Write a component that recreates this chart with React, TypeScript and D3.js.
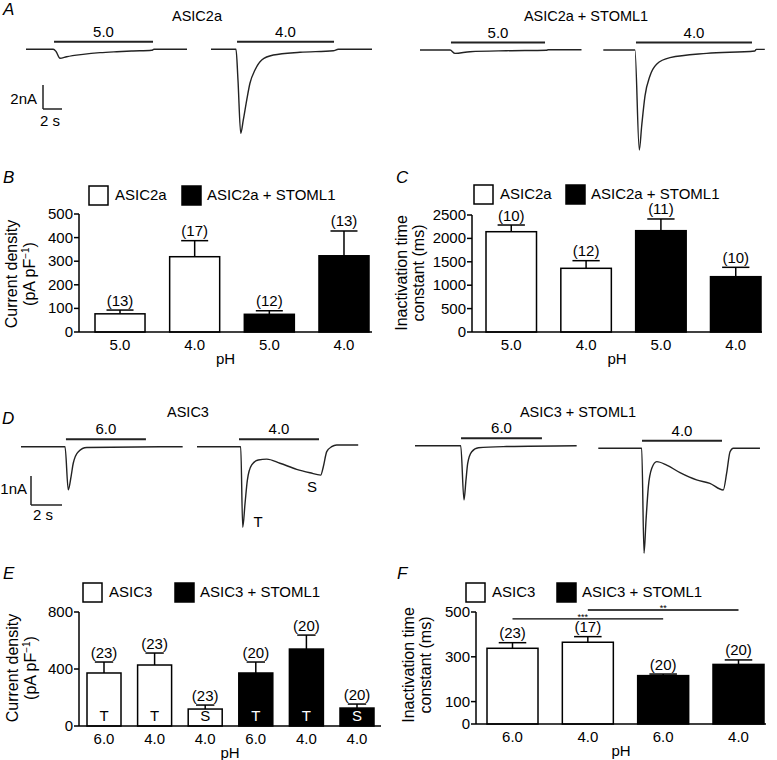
import React from 'react';
import * as d3 from 'd3';

const FONT = "'Liberation Sans', Arial, Helvetica, sans-serif";
const INK = '#222';

// ---------- Panel A traces (t in s, I in nA) ----------
const traceA1: [number, number][] = [[0,0],[2.87,0],[3.16,-0.18],[3.58,-0.75],[4.28,-0.62],[6.0,-0.42],[7.79,-0.28],[9.55,-0.2],[11.26,-0.14],[13.23,-0.08],[13.47,0],[16.95,0]];
const traceA2: [number, number][] = [[0,0],[2.63,0],[2.84,-2.56],[3.13,-7.0],[3.4,-5.89],[3.76,-4.23],[4.1,-2.83],[4.63,-1.73],[5.34,-0.89],[6.56,-0.48],[9.37,-0.25],[12.87,-0.12],[13.4,0],[16.95,0]];
const traceA3: [number, number][] = [[0,0],[3.16,0],[3.68,-0.28],[5.26,-0.14],[9.1,-0.06],[13.3,-0.02],[13.5,0.02],[17,0.02]];
const traceA4: [number, number][] = [[0,0],[3.33,0],[3.79,-8.33],[4.04,-6.33],[4.39,-3.83],[4.91,-2.17],[5.61,-1.19],[7.02,-0.64],[10.88,-0.28],[15.96,-0.08],[16.1,0.05],[17,0.05]];
const appA1: [number, number] = [2.95, 13.37];
const appA2: [number, number] = [2.74, 12.95];
const appA3: [number, number] = [3.26, 13.16];
const appA4: [number, number] = [3.44, 15.65];
const phA = ['5.0', '4.0', '5.0', '4.0'];

// ---------- Panel D traces ----------
const traceD1: [number, number][] = [[0,0],[2.84,0],[3.05,-1.49],[3.23,-1.03],[3.37,-0.57],[3.7,-0.17],[4.24,-0.03],[10.43,0]];
const traceD2: [number, number][] = [[0,0],[2.82,0],[2.95,-2.78],[3.1,-1.95],[3.25,-1.15],[3.53,-0.63],[3.95,-0.46],[4.5,-0.43],[5.35,-0.57],[6.43,-0.78],[7.29,-0.9],[7.98,-0.98],[8.15,-0.69],[8.37,-0.17],[8.69,0],[9.01,0.06],[10.4,0.06]];
const traceD3: [number, number][] = [[0,0],[2.95,0],[3.16,-1.87],[3.29,-1.18],[3.4,-0.61],[3.66,-0.21],[4.09,-0.07],[5.9,-0.03],[10.43,0]];
const traceD4: [number, number][] = [[0,0],[2.8,0],[2.95,-3.62],[3.08,-2.47],[3.23,-1.32],[3.45,-0.69],[3.77,-0.46],[4.41,-0.58],[5.27,-0.84],[6.34,-1.09],[7.2,-1.21],[8.06,-1.44],[8.28,-0.86],[8.5,-0.12],[8.71,0],[10.43,0]];
const appD1: [number, number] = [2.9, 8.06];
const appD2: [number, number] = [2.71, 7.87];
const appD3: [number, number] = [2.97, 8.19];
const appD4: [number, number] = [2.82, 7.98];
const phD = ['6.0', '4.0', '6.0', '4.0'];

// ---------- Panel B ----------
const catsB = ['5.0', '4.0', '5.0', '4.0'];
const fillB = ['#fff', '#fff', '#000', '#000'];
const meanB = [77, 319, 75, 323];
const semB = [16, 68, 15, 105];
const nB = ['(13)', '(17)', '(12)', '(13)'];
const ticksB = [0, 100, 200, 300, 400, 500];

// ---------- Panel C ----------
const catsC = ['5.0', '4.0', '5.0', '4.0'];
const fillC = ['#fff', '#fff', '#000', '#000'];
const meanC = [2143, 1361, 2165, 1182];
const semC = [143, 163, 250, 200];
const nC = ['(10)', '(12)', '(11)', '(10)'];
const ticksC = [0, 500, 1000, 1500, 2000, 2500];

// ---------- Panel E ----------
const catsE = ['6.0', '4.0', '4.0', '6.0', '4.0', '4.0'];
const fillE = ['#fff', '#fff', '#fff', '#000', '#000', '#000'];
const meanE = [372, 428, 119, 372, 540, 126];
const semE = [77, 84, 28, 77, 98, 28];
const nE = ['(23)', '(23)', '(23)', '(20)', '(20)', '(20)'];
const innerE = ['T', 'T', 'S', 'T', 'T', 'S'];
const ticksE = [0, 400, 800];

// ---------- Panel F ----------
const catsF = ['6.0', '4.0', '6.0', '4.0'];
const fillF = ['#fff', '#fff', '#000', '#000'];
const meanF = [338, 365, 216, 266];
const semF = [25, 25, 7, 20];
const nF = ['(23)', '(17)', '(20)', '(20)'];
const ticksF = [0, 100, 300, 500];
const sigF = [
  { from: 0, to: 2, level: 469, label: '***' },
  { from: 1, to: 3, level: 509, label: '**' },
];

type TraceProps = {
  data: [number, number][];
  app: [number, number];
  label: string;
  x0: number;
  y0: number;
  pxs: number;
  pxa: number;
  tmax: number;
};

function Trace({ data, app, label, x0, y0, pxs, pxa, tmax }: TraceProps) {
  const x = d3.scaleLinear().domain([0, tmax]).range([x0, x0 + tmax * pxs]);
  const y = d3.scaleLinear().domain([0, -1]).range([y0, y0 + pxa]);
  const line = d3.line<[number, number]>().x(d => x(d[0])).y(d => y(d[1])).curve(d3.curveMonotoneX);
  const by = y(0) - 7.5;
  return (
    <g>
      <path d={line(data) || ''} fill="none" stroke={INK} strokeWidth={1.4} strokeLinejoin="round" />
      <line x1={x(app[0])} x2={x(app[1])} y1={by} y2={by} stroke={INK} strokeWidth={2} />
      <text x={(x(app[0]) + x(app[1])) / 2} y={by - 5} textAnchor="middle" fontSize={15}>{label}</text>
    </g>
  );
}

type BarPanelProps = {
  axisX: number; axisEnd: number; y0: number; yTop: number; dmax: number; ticks: number[];
  bandL: number; bandR: number; pad: number;
  cats: string[]; fills: string[]; means: number[]; sems: number[]; ns: string[]; inner?: string[];
  sig?: { from: number; to: number; level: number; label: string }[];
};

function BarPanel(p: BarPanelProps) {
  const y = d3.scaleLinear().domain([0, p.dmax]).range([p.y0, p.yTop]);
  const idx = d3.range(p.cats.length);
  const x = d3.scaleBand<number>().domain(idx).range([p.bandL, p.bandR]).paddingInner(p.pad).paddingOuter(0);
  const bw = x.bandwidth();
  return (
    <g>
      {idx.map(i => {
        const cx = (x(i) as number) + bw / 2;
        const top = y(p.means[i] + p.sems[i]);
        return (
          <g key={i}>
            <line x1={cx} x2={cx} y1={y(p.means[i])} y2={top} stroke="#000" strokeWidth={1.5} />
            <line x1={cx - bw * 0.27} x2={cx + bw * 0.27} y1={top} y2={top} stroke="#000" strokeWidth={1.5} />
            <rect x={x(i)} y={y(p.means[i])} width={bw} height={y(0) - y(p.means[i])} fill={p.fills[i]} stroke="#000" strokeWidth={1.5} />
            <text x={cx} y={top - 4.5} textAnchor="middle" fontSize={15}>{p.ns[i]}</text>
            <text x={cx} y={y(0) + 18} textAnchor="middle" fontSize={15}>{p.cats[i]}</text>
            {p.inner && (
              <text x={cx} y={y(0) - 5} textAnchor="middle" fontSize={15} fill={p.fills[i] === '#000' ? '#fff' : '#000'}>{p.inner[i]}</text>
            )}
          </g>
        );
      })}
      <line x1={p.axisX} x2={p.axisX} y1={y(0)} y2={y(p.dmax)} stroke="#000" strokeWidth={1.5} />
      <line x1={p.axisX} x2={p.axisEnd} y1={y(0)} y2={y(0)} stroke="#000" strokeWidth={1.5} />
      {p.ticks.map(t => (
        <g key={t}>
          <line x1={p.axisX - 5} x2={p.axisX} y1={y(t)} y2={y(t)} stroke="#000" strokeWidth={1.5} />
          <text x={p.axisX - 6} y={y(t) + 5} textAnchor="end" fontSize={15}>{t}</text>
        </g>
      ))}
      <text x={(p.axisX + p.axisEnd) / 2} y={y(0) + 32} textAnchor="middle" fontSize={15}>pH</text>
      {p.sig && p.sig.map((s, k) => {
        const x1 = (x(s.from) as number) + bw / 2;
        const x2 = (x(s.to) as number) + bw / 2;
        return (
          <g key={k}>
            <line x1={x1} x2={x2} y1={y(s.level)} y2={y(s.level)} stroke="#000" strokeWidth={1.3} />
            <text x={(x1 + x2) / 2 - (k === 0 ? 5 : 0)} y={y(s.level) + 1} textAnchor="middle" fontSize={9}>{s.label}</text>
          </g>
        );
      })}
    </g>
  );
}

function Legend({ x1, x2, y, label1, label2 }: { x1: number; x2: number; y: number; label1: string; label2: string }) {
  return (
    <g>
      <rect x={x1} y={y} width={19} height={19} fill="#fff" stroke="#000" strokeWidth={1.5} />
      <text x={x1 + 26} y={y + 14} fontSize={15}>{label1}</text>
      <rect x={x2} y={y} width={19} height={19} fill="#000" stroke="#000" strokeWidth={1.5} />
      <text x={x2 + 25} y={y + 14} fontSize={15}>{label2}</text>
    </g>
  );
}

function YLabel({ x1, x2, cy, line1, line2 }: { x1: number; x2: number; cy: number; line1: string; line2: React.ReactNode }) {
  return (
    <g>
      <text transform={`translate(${x1},${cy}) rotate(-90)`} textAnchor="middle" fontSize={16}>{line1}</text>
      <text transform={`translate(${x2},${cy}) rotate(-90)`} textAnchor="middle" fontSize={16}>{line2}</text>
    </g>
  );
}

const pApF = (
  <>
    (pA pF<tspan fontSize={10} dy={-6}>−1</tspan><tspan dy={6}>)</tspan>
  </>
);

export default function App() {
  const pxsA = 9.5, pxaA = 12;
  const pxsD = 15.5, pxaD = 29;
  return (
    <svg width={777} height={760} style={{ position: 'absolute', left: 0, top: 0, background: '#fff' }} fontFamily={FONT}>
      <rect width={777} height={760} fill="#fff" />
      {/* Panel A */}
      <text x={3} y={15} fontSize={17} fontStyle="italic">A</text>
      <text x={197} y={21} textAnchor="middle" fontSize={14.5}>ASIC2a</text>
      <text x={586} y={21} textAnchor="middle" fontSize={14.5}>ASIC2a + STOML1</text>
      <Trace data={traceA1} app={appA1} label={phA[0]} x0={26} y0={49.3} pxs={pxsA} pxa={pxaA} tmax={17} />
      <Trace data={traceA2} app={appA2} label={phA[1]} x0={211} y0={49.3} pxs={pxsA} pxa={pxaA} tmax={17} />
      <Trace data={traceA3} app={appA3} label={phA[2]} x0={420} y0={50} pxs={pxsA} pxa={pxaA} tmax={17} />
      <Trace data={traceA4} app={appA4} label={phA[3]} x0={603.3} y0={50} pxs={pxsA} pxa={pxaA} tmax={17} />
      <line x1={43} x2={43} y1={109 - 2 * pxaA} y2={109} stroke={INK} strokeWidth={1.5} />
      <line x1={43} x2={43 + 2 * pxsA} y1={109} y2={109} stroke={INK} strokeWidth={1.5} />
      <text x={37} y={104} textAnchor="end" fontSize={15}>2nA</text>
      <text x={40} y={126} fontSize={15}>2 s</text>

      {/* Panel B */}
      <text x={3} y={183} fontSize={17} fontStyle="italic">B</text>
      <Legend x1={89} x2={182} y={186} label1="ASIC2a" label2="ASIC2a + STOML1" />
      <YLabel x1={17} x2={35} cy={274} line1="Current density" line2={pApF} />
      <BarPanel axisX={79} axisEnd={372} y0={332} yTop={214} dmax={500} ticks={ticksB}
        bandL={95} bandR={369} pad={0.33} cats={catsB} fills={fillB} means={meanB} sems={semB} ns={nB} />

      {/* Panel C */}
      <text x={396} y={183} fontSize={17} fontStyle="italic">C</text>
      <Legend x1={474} x2={566} y={185} label1="ASIC2a" label2="ASIC2a + STOML1" />
      <YLabel x1={407} x2={424} cy={273} line1="Inactivation time" line2="constant (ms)" />
      <BarPanel axisX={472} axisEnd={762} y0={332} yTop={215} dmax={2500} ticks={ticksC}
        bandL={486} bandR={761} pad={0.325} cats={catsC} fills={fillC} means={meanC} sems={semC} ns={nC} />

      {/* Panel D */}
      <text x={2} y={424} fontSize={17} fontStyle="italic">D</text>
      <text x={188} y={417} textAnchor="middle" fontSize={14.5}>ASIC3</text>
      <text x={578} y={417} textAnchor="middle" fontSize={14.5}>ASIC3 + STOML1</text>
      <Trace data={traceD1} app={appD1} label={phD[0]} x0={21} y0={446.7} pxs={pxsD} pxa={pxaD} tmax={10.45} />
      <Trace data={traceD2} app={appD2} label={phD[1]} x0={197} y0={446.7} pxs={pxsD} pxa={pxaD} tmax={10.45} />
      <Trace data={traceD3} app={appD3} label={phD[2]} x0={415} y0={445.7} pxs={pxsD} pxa={pxaD} tmax={10.45} />
      <Trace data={traceD4} app={appD4} label={phD[3]} x0={598.3} y0={448.3} pxs={pxsD} pxa={pxaD} tmax={10.45} />
      <text x={197 + 3.94 * pxsD} y={446.7 + 2.77 * pxaD} textAnchor="middle" fontSize={15}>T</text>
      <text x={197 + 7.42 * pxsD} y={446.7 + 1.56 * pxaD} textAnchor="middle" fontSize={15}>S</text>
      <line x1={31} x2={31} y1={505 - pxaD} y2={505} stroke={INK} strokeWidth={1.5} />
      <line x1={31} x2={31 + 2 * pxsD} y1={505} y2={505} stroke={INK} strokeWidth={1.5} />
      <text x={27} y={494} textAnchor="end" fontSize={15}>1nA</text>
      <text x={33} y={520} fontSize={15}>2 s</text>

      {/* Panel E */}
      <text x={3} y={579} fontSize={17} fontStyle="italic">E</text>
      <Legend x1={83} x2={175} y={583} label1="ASIC3" label2="ASIC3 + STOML1" />
      <YLabel x1={18} x2={36} cy={668} line1="Current density" line2={pApF} />
      <BarPanel axisX={79} axisEnd={381} y0={726} yTop={612} dmax={800} ticks={ticksE}
        bandL={87} bandR={374} pad={0.328} cats={catsE} fills={fillE} means={meanE} sems={semE} ns={nE} inner={innerE} />

      {/* Panel F */}
      <text x={397} y={579} fontSize={17} fontStyle="italic">F</text>
      <Legend x1={466} x2={557} y={583} label1="ASIC3" label2="ASIC3 + STOML1" />
      <YLabel x1={414} x2={431} cy={665} line1="Inactivation time" line2="constant (ms)" />
      <BarPanel axisX={476} axisEnd={766} y0={724} yTop={612} dmax={500} ticks={ticksF}
        bandL={487} bandR={764} pad={0.323} cats={catsF} fills={fillF} means={meanF} sems={semF} ns={nF} sig={sigF} />
    </svg>
  );
}
